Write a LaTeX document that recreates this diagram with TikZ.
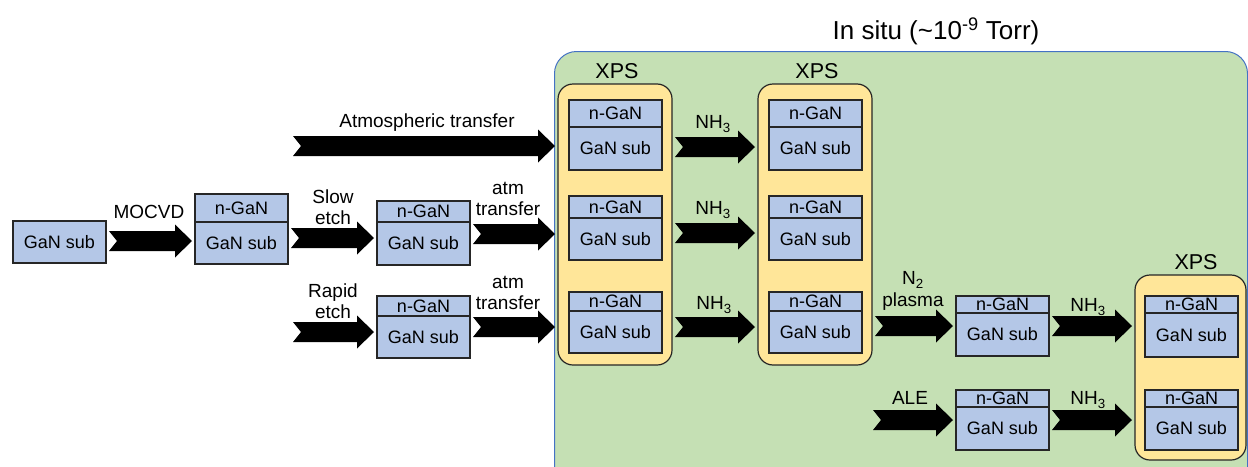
\documentclass[tikz,border=0pt]{standalone}
\usepackage{fontspec}
\setmainfont{Liberation Sans}
\usetikzlibrary{calc}
\definecolor{boxblue}{HTML}{B4C7E7}
\definecolor{xpsyellow}{HTML}{FFE699}
\definecolor{insitu}{HTML}{C5E0B4}
\definecolor{insituedge}{HTML}{4472C4}
\newcommand\fsz[2]{\fontsize{#1}{#2}\selectfont}
\newcommand\sample[5]{%
  \node[layer, minimum height=#4pt] (#1n) at (#2,#3) {n-GaN};
  \node[layer, minimum height=#5pt] (#1s) at (#1n.south west) {GaN sub};}
\newcommand\fatarrow[3]{%
  \fill[arrowfill] let \p1=#1, \p2=#2, \p3=(0,#3) in
   (\x1+3pt,\y3+10pt) -- (\x2-20pt,\y3+10pt) -- (\x2-20pt,\y3+16.5pt) -- (\x2-3pt,\y3)
   -- (\x2-20pt,\y3-16.5pt) -- (\x2-20pt,\y3-10pt) -- (\x1+3pt,\y3-10pt) -- (\x1+11pt,\y3) -- cycle;}
\begin{document}
\begin{tikzpicture}[x=1pt,y=-1pt,
  layer/.style={draw=black!85, fill=boxblue, line width=1.2pt, minimum width=93pt,
    inner sep=0pt, outer sep=0pt, anchor=north west, font=\fsz{18}{21}},
  xpsbox/.style={draw=black!85, fill=xpsyellow, line width=1.2pt, rounded corners=15pt,
    anchor=north west, inner sep=0pt, outer sep=0pt},
  lbl/.style={font=\fsz{19}{21}, align=center, inner sep=0pt},
  xpslbl/.style={font=\fsz{21.5}{24}, inner sep=0pt},
  arrowfill/.style={fill=black}]
\useasboundingbox (0,0) rectangle (1248,466);
\begin{scope}
\clip (0,0) rectangle (1248,466);
\node[draw=insituedge, fill=insitu, line width=1pt, rounded corners=22pt, anchor=north west,
  minimum width=693pt, minimum height=449pt, inner sep=0pt] (insitu) at (554,51) {};
\node[xpsbox, minimum width=114pt, minimum height=281pt] (X1) at (558,84) {};
\node[xpsbox, minimum width=114pt, minimum height=281pt] (X2) at (758,84) {};
\node[xpsbox, minimum width=111pt, minimum height=185pt] (X3) at (1135,275) {};
\end{scope}
\node[font=\fsz{26}{30}, inner sep=0pt] (title) at (936,31) {In situ (\textasciitilde10\textsuperscript{-9} Torr)};
\node[xpslbl] (X1l) at (617,71) {XPS};
\node[xpslbl] (X2l) at (817,71) {XPS};
\node[xpslbl] (X3l) at (1196,262) {XPS};
% samples
\node[layer, minimum height=42pt] (As) at (13,221) {GaN sub};
\sample{B}{195}{194}{28}{42}
\sample{C}{377}{201}{21}{43}
\sample{D}{377}{296}{20}{42}
\sample{Pa}{569}{100}{27}{43}
\sample{Pb}{569}{196}{22}{42}
\sample{Pc}{569}{292}{19}{42}
\sample{Qa}{769}{100}{27}{43}
\sample{Qb}{769}{196}{22}{42}
\sample{Qc}{769}{292}{19}{42}
\sample{E}{956}{296}{17}{43}
\sample{F}{956}{390}{17}{43}
\sample{Ra}{1145}{296}{17}{44}
\sample{Rb}{1145}{390}{17}{43}
% free tails
\coordinate (atmS) at (290,146);
\coordinate (rapS) at (290,332);
\coordinate (aleS) at (870,420);
% arrows
\fatarrow{(As.east)}{(Bs.west)}{241}
\fatarrow{(atmS)}{(X1.west)}{146}
\fatarrow{(Bs.east)}{(Cs.west)}{238}
\fatarrow{(Cs.east)}{(X1.west)}{234}
\fatarrow{(rapS)}{(Ds.west)}{332}
\fatarrow{(Ds.east)}{(X1.west)}{327}
\fatarrow{(X1.east)}{(X2.west)}{147}
\fatarrow{(X1.east)}{(X2.west)}{233}
\fatarrow{(X1.east)}{(X2.west)}{327}
\fatarrow{(X2.east)}{(Es.west)}{326}
\fatarrow{(Es.east)}{(X3.west)}{326}
\fatarrow{(aleS)}{(Fs.west)}{420}
\fatarrow{(Fs.east)}{(X3.west)}{420}
% labels
\node[lbl] (l1) at (149,212) {MOCVD};
\node[lbl] (l2) at (427,123) {Atmospheric transfer};
\node[lbl] (l3) at (333,207) {Slow\\etch};
\node[lbl] (l4) at (508,199) {atm\\transfer};
\node[lbl] (l5) at (333,301) {Rapid\\etch};
\node[lbl] (l6) at (508,293) {atm\\transfer};
\node[lbl] (l7) at (713,124) {NH\textsubscript{3}};
\node[lbl] (l8) at (713,210) {NH\textsubscript{3}};
\node[lbl] (l9) at (714,305) {NH\textsubscript{3}};
\node[lbl] (l10a) at (913,280) {N\textsubscript{2}};
\node[lbl] (l10b) at (913,302) {plasma};
\node[lbl] (l11) at (1088,307) {NH\textsubscript{3}};
\node[lbl] (l12) at (910,398) {ALE};
\node[lbl] (l13) at (1088,400) {NH\textsubscript{3}};
\end{tikzpicture}
\end{document}
